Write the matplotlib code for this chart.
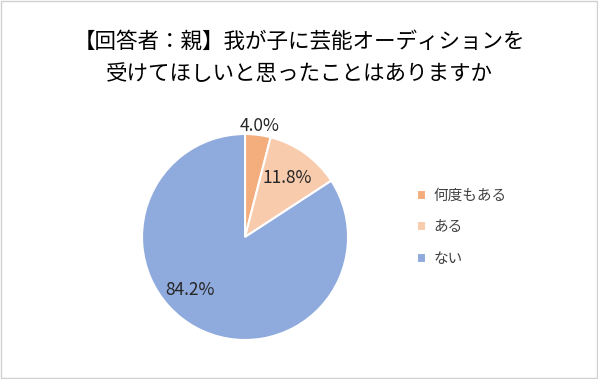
import matplotlib
matplotlib.use("Agg")
import matplotlib.pyplot as plt
from matplotlib.patches import Rectangle
import numpy as np

plt.rcParams['font.family'] = ['Noto Sans CJK JP', 'DejaVu Sans']

TITLE = "【回答者：親】我が子に芸能オーディションを\n受けてほしいと思ったことはありますか"
categories = ["何度もある", "ある", "ない"]
values = [4.0, 11.8, 84.2]
colors = ["#F4AE7E", "#F8CBAD", "#8FAADC"]

# label placement (radius fraction, angle offset in degrees from wedge middle)
label_r = [1.09, 0.70, 0.74]
label_dang = [0, 0, -18]

fig = plt.figure(figsize=(5.98, 3.79), dpi=100)
fig.patches.append(Rectangle((0.002, 0.003), 0.996, 0.994, transform=fig.transFigure,
                             fill=False, edgecolor="#D0D0D0", linewidth=1))

fig.text(0.5, 0.846, TITLE, ha="center", va="center", fontsize=15.5,
         color="#000000", linespacing=1.6)

ax = fig.add_axes([0.2375, 0.1029, 0.3445, 0.5435])
wedges, _ = ax.pie(values, colors=colors, startangle=90, counterclock=False,
                   wedgeprops=dict(edgecolor="white", linewidth=1.5))
ax.set_xlim(-1, 1)
ax.set_ylim(-1, 1)
ax.set_aspect("equal")

for w, v, r, da in zip(wedges, values, label_r, label_dang):
    mid = np.deg2rad((w.theta1 + w.theta2) / 2 + da)
    ax.text(r * np.cos(mid), r * np.sin(mid), f"{v:.1f}%", ha="center", va="center",
            fontsize=12.5, color="#262626")

leg = fig.legend(wedges, categories, loc="center left", bbox_to_anchor=(0.675, 0.40),
                 frameon=False, fontsize=10.5, handlelength=0.65, handleheight=0.65,
                 handletextpad=0.5, labelspacing=1.2)
for t in leg.get_texts():
    t.set_color("#404040")

fig.savefig("out.png", dpi=100)
